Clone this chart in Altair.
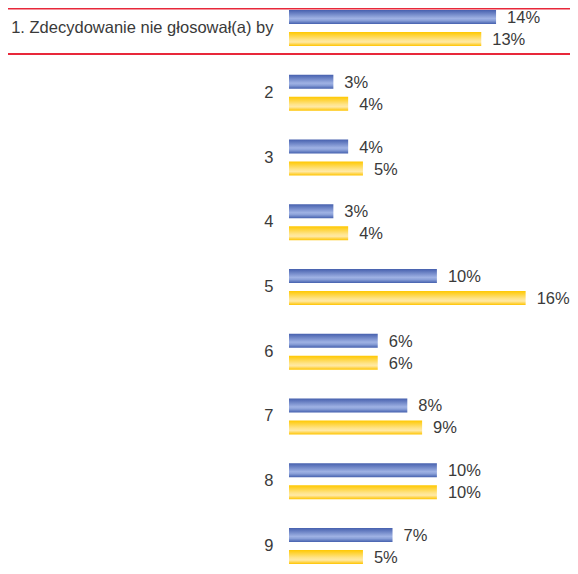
import altair as alt
import pandas as pd

categories = ["1. Zdecydowanie nie głosował(a) by", "2", "3", "4", "5", "6", "7", "8", "9"]
series_names = ["a", "b"]
blue_values = [14, 3, 4, 3, 10, 6, 8, 10, 7]
yellow_values = [13, 4, 5, 4, 16, 6, 9, 10, 5]

rows = []
for c, v in zip(categories, blue_values):
    rows.append({"cat": c, "series": "a", "value": v, "label": f"{v}%"})
for c, v in zip(categories, yellow_values):
    rows.append({"cat": c, "series": "b", "value": v, "label": f"{v}%"})
df = pd.DataFrame(rows)

FONT = "Liberation Sans, Arial, sans-serif"
TEXT_COLOR = "#3a3a3a"

blue_grad = alt.Gradient(
    gradient="linear", x1=0, x2=0, y1=0, y2=1,
    stops=[
        alt.GradientStop(color="#4660ae", offset=0),
        alt.GradientStop(color="#9fb2e4", offset=0.6),
        alt.GradientStop(color="#8aa0d8", offset=0.75),
        alt.GradientStop(color="#4460ae", offset=1),
    ],
)
yellow_grad = alt.Gradient(
    gradient="linear", x1=0, x2=0, y1=0, y2=1,
    stops=[
        alt.GradientStop(color="#ffc800", offset=0),
        alt.GradientStop(color="#ffe48a", offset=0.55),
        alt.GradientStop(color="#ffe9a6", offset=0.72),
        alt.GradientStop(color="#ffc400", offset=1),
    ],
)

y_enc = alt.Y(
    "cat:N",
    sort=categories,
    scale=alt.Scale(domain=categories, paddingInner=0.444, paddingOuter=0.0309),
    axis=alt.Axis(
        title=None, ticks=False, domain=False, labelFont=FONT, labelFontSize=16.5,
        labelColor=TEXT_COLOR, labelPadding=16, labelLimit=400, labelBaseline="middle",
    ),
)
yoff_enc = alt.YOffset(
    "series:N",
    scale=alt.Scale(domain=series_names, paddingInner=0.3636, paddingOuter=0),
)
x_enc = alt.X("value:Q", scale=alt.Scale(domain=[0, 19], nice=False, zero=True), axis=None)

base = alt.Chart(df)

blue = base.transform_filter(alt.datum.series == "a").mark_bar(color=blue_grad).encode(
    x=x_enc, y=y_enc, yOffset=yoff_enc
)
yellow = base.transform_filter(alt.datum.series == "b").mark_bar(color=yellow_grad).encode(
    x=x_enc, y=y_enc, yOffset=yoff_enc
)
labels = base.mark_text(
    align="left", baseline="middle", dx=11, dy=1, font=FONT, fontSize=16.5, color=TEXT_COLOR
).encode(x=x_enc, y=y_enc, yOffset=yoff_enc, text="label:N")

rule_top = alt.Chart(pd.DataFrame({"k": [0]})).mark_rule(color="#e8283a", strokeWidth=1.5).encode(
    x=alt.value(-281), x2=alt.value(281), y=alt.value(0.75)
)
rule_mid = alt.Chart(pd.DataFrame({"k": [0]})).mark_rule(color="#e8283a", strokeWidth=2).encode(
    x=alt.value(-281), x2=alt.value(281), y=alt.value(46)
)

chart = alt.layer(blue, yellow, labels, rule_top, rule_mid).properties(
    width=281,
    height=558,
    padding={"left": 281, "top": 0, "right": 0, "bottom": 0},
    autosize=alt.AutoSizeParams(type="none"),
    background="white",
).configure_view(stroke=None)

chart.save("out.html", embed_options={"renderer": "svg", "actions": False})
